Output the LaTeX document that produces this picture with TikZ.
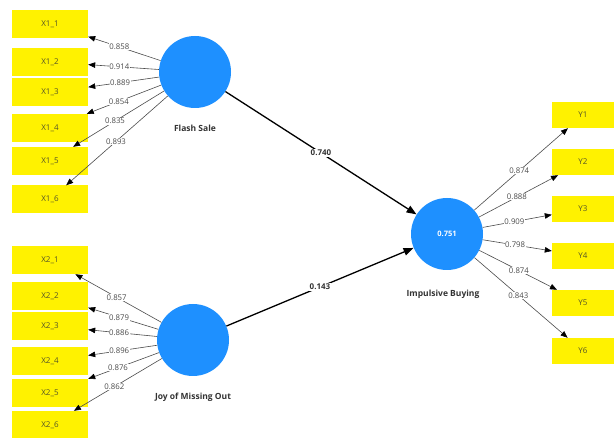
\documentclass[tikz,border=0pt]{standalone}
\usepackage{fontspec}
\setmainfont{Open Sans}
\usetikzlibrary{arrows.meta}
\definecolor{lvblue}{RGB}{30,144,255}
\definecolor{boxtxt}{RGB}{85,85,40}
\definecolor{numtxt}{RGB}{75,75,75}
\begin{document}
\begin{tikzpicture}[x=1pt,y=-1pt,
  ind/.style={fill=yellow, minimum width=76pt, minimum height=28pt, inner sep=0pt,
    font=\fontsize{8}{9}\selectfont, text=boxtxt},
  indy/.style={ind, minimum width=62pt, minimum height=26pt},
  lv/.style={circle, fill=lvblue, minimum size=72pt, inner sep=0pt},
  lvlab/.style={font=\bfseries\fontsize{8.5}{10}\selectfont, text=black!80},
  loadarrow/.style={draw=numtxt, line width=0.6pt, -{Triangle[length=7pt,width=5.5pt,color=black]}},
  wt/.style={fill=white, inner sep=0.6pt, font=\fontsize{7.8}{9}\selectfont, text=numtxt},
  pathc/.style={draw=black, line width=1.3pt, -{Triangle[length=10pt,width=7.5pt]}},
  pw/.style={fill=white, inner sep=1pt, font=\bfseries\fontsize{8}{9}\selectfont, text=black!80}
]
\useasboundingbox (0,0) rectangle (616,438);
% latent variables
\node[lv] (fs) at (195,72) {};
\node[lvlab] (fsl) at (195,128) {Flash Sale};
\node[lv] (jo) at (193,340) {};
\node[lvlab] (jol) at (193,397) {Joy of Missing Out};
\node[lv, text=white, font=\bfseries\fontsize{7.5}{9}\selectfont] (ib) at (447,234) {0.751};
\node[lvlab] (ibl) at (443,294) {Impulsive Buying};
% indicators
\node[ind] (x11) at (50,24) {X1\_1};
\node[ind] (x12) at (50,62) {X1\_2};
\node[ind] (x13) at (50,92.5) {X1\_3};
\node[ind] (x14) at (50,128) {X1\_4};
\node[ind] (x15) at (50,161) {X1\_5};
\node[ind] (x16) at (50,199.5) {X1\_6};
\node[ind] (x21) at (50,260) {X2\_1};
\node[ind] (x22) at (50,296) {X2\_2};
\node[ind] (x23) at (50,326) {X2\_3};
\node[ind] (x24) at (50,361) {X2\_4};
\node[ind] (x25) at (50,393) {X2\_5};
\node[ind] (x26) at (50,425) {X2\_6};
\node[indy] (y1) at (583,115) {Y1};
\node[indy] (y2) at (583,162) {Y2};
\node[indy] (y3) at (583,209) {Y3};
\node[indy] (y4) at (583,256) {Y4};
\node[indy] (y5) at (583,303) {Y5};
\node[indy] (y6) at (583,351) {Y6};
% loadings
\draw[loadarrow] (fs) -- node[wt,pos=0.57] (l11) {0.858} (x11);
\draw[loadarrow] (fs) -- node[wt,pos=0.56] (l12) {0.914} (x12);
\draw[loadarrow] (fs) -- node[wt,pos=0.55] (l13) {0.889} (x13);
\draw[loadarrow] (fs) -- node[wt,pos=0.57] (l14) {0.854} (x14);
\draw[loadarrow] (fs) -- node[wt,pos=0.54] (l15) {0.835} (x15);
\draw[loadarrow] (fs) -- node[wt,pos=0.51] (l16) {0.893} (x16);
\draw[loadarrow] (jo) -- node[wt,pos=0.52] (l21) {0.857} (x21);
\draw[loadarrow] (jo) -- node[wt,pos=0.56] (l22) {0.879} (x22);
\draw[loadarrow] (jo) -- node[wt,pos=0.55] (l23) {0.886} (x23);
\draw[loadarrow] (jo) -- node[wt,pos=0.55] (l24) {0.896} (x24);
\draw[loadarrow] (jo) -- node[wt,pos=0.58] (l25) {0.876} (x25);
\draw[loadarrow] (jo) -- node[wt,pos=0.54] (l26) {0.862} (x26);
\draw[loadarrow] (ib) -- node[wt,pos=0.48] (m1) {0.874} (y1);
\draw[loadarrow] (ib) -- node[wt,pos=0.48] (m2) {0.888} (y2);
\draw[loadarrow] (ib) -- node[wt,pos=0.46] (m3) {0.909} (y3);
\draw[loadarrow] (ib) -- node[wt,pos=0.47] (m4) {0.798} (y4);
\draw[loadarrow] (ib) -- node[wt,pos=0.51] (m5) {0.874} (y5);
\draw[loadarrow] (ib) -- node[wt,pos=0.47] (m6) {0.843} (y6);
% structural paths
\draw[pathc] (fs) -- node[pw,pos=0.5] (p1) {0.740} (ib);
\draw[pathc] (jo) -- node[pw,pos=0.5] (p2) {0.143} (ib);
\end{tikzpicture}
\end{document}
